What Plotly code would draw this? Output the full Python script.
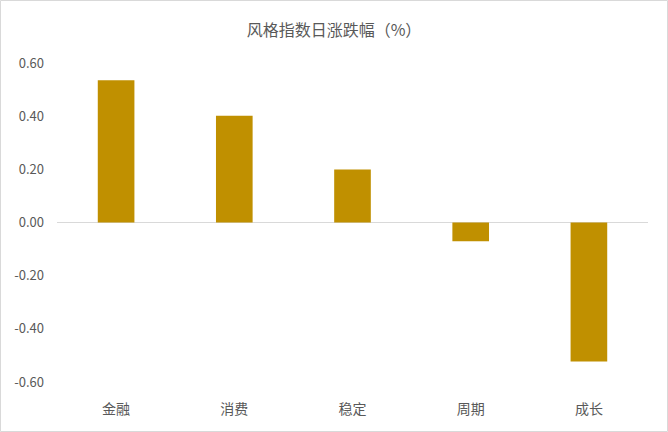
import plotly.graph_objects as go

categories = ["金融", "消费", "稳定", "周期", "成长"]
values = [0.535, 0.402, 0.199, -0.071, -0.523]
tick_vals = [-0.6, -0.4, -0.2, 0.0, 0.2, 0.4, 0.6]
tick_text = ["-0.60", "-0.40", "-0.20", "0.00", "0.20", "0.40", "0.60"]

W, H = 668, 432
L, R, T, B = 57, 20, 63, 50
pw, ph = W - L - R, H - T - B

fig = go.Figure(go.Bar(x=categories, y=values, marker_color="#C09000",
                       marker_line_width=0, width=0.31))

font = "Noto Sans CJK SC, Microsoft YaHei, sans-serif"
fig.update_layout(
    width=W, height=H,
    margin=dict(l=L, r=R, t=T, b=B),
    paper_bgcolor="white", plot_bgcolor="white",
    showlegend=False,
    title=dict(text="风格指数日涨跌幅（%）", x=0.5, xanchor="center",
               y=1 - 30 / H, yanchor="middle",
               font=dict(family=font, size=16, color="#595959")),
    font=dict(family=font, size=12, color="#595959"),
    bargap=0.69,
)
fig.update_xaxes(showline=False, showgrid=False, zeroline=False, ticks="",
                 ticklabelstandoff=17,
                 tickfont=dict(family=font, size=14, color="#595959"))
fig.update_yaxes(range=[-0.6, 0.6], tickvals=tick_vals, ticktext=tick_text,
                 showgrid=False, showline=False, zeroline=True,
                 zerolinecolor="#D9D9D9", zerolinewidth=1, ticks="",
                 ticklabelstandoff=12,
                 tickfont=dict(family=font, size=13, color="#595959"))
# outer border of the chart area
fig.add_shape(type="rect", xref="paper", yref="paper",
              x0=(0.5 - L) / pw, x1=(W - 0.5 - L) / pw,
              y0=-(B - 0.5) / ph, y1=(ph + T - 0.5) / ph,
              line=dict(color="#D9D9D9", width=1), layer="below")
fig.write_html("out.html")
